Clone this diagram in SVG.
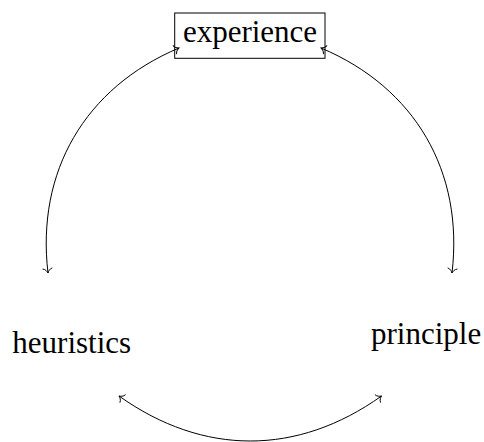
<svg xmlns="http://www.w3.org/2000/svg" width="484" height="442" viewBox="0 0 484 442">
<style>
.lbl{font-family:"Liberation Serif","Times New Roman",serif;font-size:31px;fill:#000}
.box{fill:#fff;stroke:#000;stroke-width:1}
.edge{fill:none;stroke:#000;stroke-width:1;marker-start:url(#to);marker-end:url(#to)}
</style>
<defs>
<marker id="to" markerUnits="userSpaceOnUse" viewBox="-6 -6 8 12" refX="0.5" refY="0" markerWidth="8" markerHeight="12" orient="auto-start-reverse" overflow="visible">
<path d="M -4,-4.5 C -3.5,-2 -0.8,-0.5 0.5,0 C -0.8,0.5 -3.5,2 -4,4.5" fill="none" stroke="#000" stroke-width="0.9" stroke-linecap="round"/>
</marker>
</defs>
<rect width="484" height="442" fill="#fff"/>
<g id="experience">
<rect class="box" x="174.7" y="13" width="150.3" height="45.3"/>
<text class="lbl" x="250" y="42" text-anchor="middle">experience</text>
</g>
<g id="heuristics">
<text class="lbl" x="12.3" y="353">heuristics</text>
</g>
<g id="principle">
<text class="lbl" x="371" y="344">principle</text>
</g>
<g id="connectors">
<path class="edge" d="M 179,48 C 85,87.6 36,171.7 48,273"/>
<path class="edge" d="M 321,48 C 415,87.6 464,171.7 452,273"/>
<path class="edge" d="M 119,396 C 203.4,456 297.3,456 381.5,396"/>
</g>
</svg>
